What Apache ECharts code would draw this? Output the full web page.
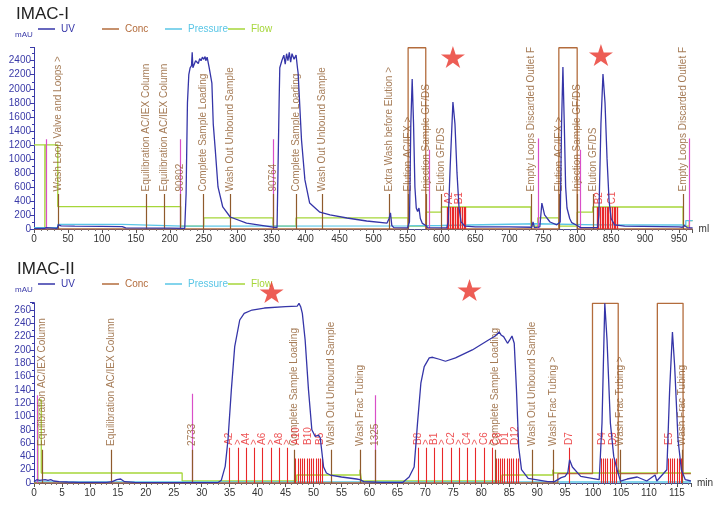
<!DOCTYPE html>
<html><head><meta charset="utf-8">
<script src="https://cdn.jsdelivr.net/npm/echarts@6/dist/echarts.min.js"></script>
<style>html,body{margin:0;padding:0;background:#fff}#c{width:714px;height:509px}</style>
</head><body><div id="c"></div>
<script>
// ---------------- IMAC-I (ml) ----------------
const uv1 = [[0,5],[5,10],[15,10],[18,20],[20,8],[34,8],[36,60],[40,45],[60,40],[100,38],[130,35],[135,15],[200,12],[222,10],[224,500],[226,1800],[228,2200],[230,2300],[232,2330],[233,2520],[234,2300],[236,2350],[238,2400],[240,2380],[242,2360],[244,2430],[246,2400],[248,2450],[250,2420],[252,2460],[253,2400],[255,2450],[258,2300],[262,2080],[264,1500],[267,1127],[271,600],[278,314],[289,171],[313,85],[352,28],[358,20],[360,30],[361,1800],[362,2300],[365,2400],[368,2480],[370,2350],[372,2500],[374,2400],[376,2520],[378,2380],[380,2500],[383,2420],[386,2480],[388,2300],[389,2225],[394,1270],[399,700],[406,370],[421,240],[436,200],[461,157],[490,114],[520,85],[522,80],[523,150],[525,230],[527,50],[530,20],[550,15],[553,100],[555,1500],[557,2140],[559,1500],[561,600],[563,300],[565,250],[567,300],[569,150],[572,80],[577,50],[580,20],[608,15],[610,100],[613,900],[617,1812],[620,1500],[623,800],[626,300],[629,100],[635,40],[650,30],[700,30],[733,25],[735,100],[737,20],[745,30],[748,370],[752,200],[760,100],[770,60],[775,100],[777,1500],[779,2310],[781,1500],[783,600],[785,300],[787,280],[789,150],[792,90],[800,50],[805,20],[830,20],[832,200],[835,1500],[838,2210],[841,1800],[844,1000],[847,400],[850,150],[855,60],[870,40],[950,30],[955,25],[958,50],[962,20],[970,15]];
const conc1 = [[0,0],[551,0],[551,2585],[577,2585],[577,0],[773,0],[773,2585],[800,2585],[800,0],[970,0]];
const pressure1 = [[0,20],[35,20],[35,65],[130,65],[130,40],[220,40],[220,45],[550,45],[550,50],[600,50],[600,75],[740,75],[740,60],[830,60],[830,57],[960,57],[960,120],[970,120]];
const flow1 = [[0,1200],[16,1200],[16,0],[16.5,0],[16.5,1200],[35,1200],[35,320],[216,320],[216,40],[250,40],[250,160],[352,160],[352,40],[386,40],[386,160],[551,160],[551,40],[577,40],[577,240],[600,240],[600,314],[732,314],[732,40],[742,40],[742,160],[773,160],[773,40],[800,40],[800,240],[823,240],[823,314],[956,314],[956,40],[965,40],[965,120],[970,120]];
const events1 = [[35,'Wash Loop Valve and Loops >'],[166,'Equilibration AC/IEX Column'],[192,'Equilibration AC/IEX Column'],[216,'90802'],[249,'Complete Sample Loading'],[289,'Wash Out Unbound Sample'],[353,'90764'],[386,'Complete Sample Loading'],[425,'Wash Out Unbound Sample'],[523,'Extra Wash before Elution >'],[551,'Elution AC/IEX >'],[577,'Injection Sample GF/DS'],[600,'Elution GF/DS'],[732,'Empty Loops Discarded Outlet F'],[773,'Elution AC/IEX >'],[800,'Injection Sample GF/DS'],[823,'Elution GF/DS'],[956,'Empty Loops Discarded Outlet F']];
const pinks1 = [[18,1280],[216,1280],[353,1280],[582,1130],[742,1290],[804,1130],[965,1290]];
const fracs1 = [608,610.5,613,615.5,618,620.5,623,625.5,628,630.5,633,635.5,829,831.5,834,836.5,839,841.5,844,846.5,849,851.5,854,856.5,859];
const fracLabels1 = [[611,'A2'],[627,'B1'],[832,'B2'],[851,'C1']];
const stars1 = [[617,2454],[835,2482]];

// ---------------- IMAC-II (min) ----------------
const uv2 = [[0,2],[0.5,5],[1,4],[2,5],[2.5,4],[3,5],[3.5,3],[4.5,2],[6,1.5],[8,1],[13,1],[14,2],[14.8,5],[15.5,6],[16.2,2],[18,1],[26.5,0.5],[33,1],[33.5,4],[34.2,25],[34.7,65],[35.3,140],[35.9,205],[36.8,245],[37.6,255],[39,260],[41.2,263],[45,265],[47.1,266],[47.4,270],[47.7,265],[48,255],[48.5,215],[49.1,140],[49.7,80],[50.3,70],[50.6,68],[50.9,72],[51.2,68],[51.8,24],[52.3,15],[53,12],[55,9],[57.7,6],[58.3,5],[59,2],[62,1],[66,1],[67.1,9],[68,24],[68.6,90],[69.2,150],[69.8,175],[70.7,188],[71.3,189],[72.5,186],[73.6,183],[75.4,188],[78.4,200],[81.3,215],[82.5,221],[83.2,227],[83.6,222],[84,220],[84.7,210],[85.1,215],[85.5,221],[85.9,210],[86.3,140],[86.7,54],[87.2,20],[88.4,7],[91.9,2],[93.1,2],[93.7,5],[94.3,8],[95,10],[95.5,16],[95.8,35],[96.3,24],[97.8,10],[101.1,5],[101.6,90],[102.1,270],[102.5,215],[103.1,90],[103.7,40],[104.3,20],[104.9,3],[106.1,6],[107.9,9],[109.6,3],[111.1,12],[111.4,3],[113.2,20],[113.7,140],[114.2,227],[114.6,175],[115.2,65],[115.8,20],[116.5,5],[117.5,3]];
const conc2 = [[0,0],[93.7,0],[93.7,14],[99.9,14],[99.9,270],[104.5,270],[104.5,14],[111.5,14],[111.5,270],[116.1,270],[116.1,14],[117.5,14]];
const pressure2 = [[0,1.5],[117.5,1.5]];
const flow2 = [[0,0],[0.7,0],[0.7,125],[1.3,125],[1.3,15],[26.5,15],[26.5,3],[47,3],[47,12],[58.3,12],[58.3,20],[58.6,20],[58.6,3],[83.7,3],[83.7,12],[92.8,12],[92.8,20],[93,15],[104.5,15],[104.6,20],[104.8,15],[117.5,15]];
const events2 = [[1.4,'Equilibration AC/IEX Column'],[13.75,'Equilibration AC/IEX Column'],[28.3,'2733'],[46.6,'Complete Sample Loading'],[53.1,'Wash Out Unbound Sample'],[58.3,'Wash Frac Tubing'],[61.0,'1325'],[82.5,'Complete Sample Loading'],[89.1,'Wash Out Unbound Sample'],[92.8,'Wash Frac Tubing >'],[104.9,'Wash Frac Tubing >'],[116.0,'Wash Frac Tubing']];
const pinks2 = [[0.65,132],[28.3,134],[61.0,132]];
const fracsTall2 = [35.0,36.5,37.9,39.4,40.9,42.4,43.8,45.3,68.7,70.2,71.6,73.1,74.6,76.1,77.5,79.0,80.5,82.0,95.8];
const fracsShort2 = [46.8,47.2,47.6,48.0,48.4,48.8,49.2,49.6,50.0,50.4,50.8,51.2,51.6,82.6,83.0,83.4,83.8,84.2,84.6,85.0,85.4,85.8,86.2,86.6,101.4,101.8,102.2,102.6,103.0,103.4,103.8,104.2,113.4,113.8,114.2,114.6,115.0,115.4,115.8];
const fracLabels2 = [[35.0,'A2'],[36.5,'>'],[37.9,'A4'],[39.4,'>'],[40.9,'A6'],[42.4,'>'],[43.8,'A8'],[45.3,'>'],[46.9,'A10'],[49.1,'B10'],[51.2,'B5'],[68.7,'B8'],[70.2,'>'],[71.6,'B1'],[73.1,'>'],[74.6,'C2'],[76.1,'>'],[77.5,'C4'],[79.0,'>'],[80.5,'C6'],[82.0,'>'],[82.9,'C8'],[84.3,'D1'],[86.0,'D12'],[95.8,'D7'],[101.6,'D4'],[103.7,'D9'],[113.7,'E5']];
const stars2 = [[42.5,287],[77.9,290]];

const C = {uv:'#3535a8', conc:'#b36c3c', pres:'#5ac6e6', flow:'#a6d63a', ev:'#8f5a2c', pink:'#d94fc8', red:'#e8282a', axisY:'#3a3aa8'};
const FONT = 'Arial';
const STAR = 'path://M50,0 L61,35 L98,35 L68,57 L79,91 L50,70 L21,91 L32,57 L2,35 L39,35 Z';

function vlines(list, h, color, w, xi, hFn){
  return {type:'lines', coordinateSystem:'cartesian2d', xAxisIndex:xi, yAxisIndex:xi, silent:true, z:3,
    lineStyle:{color:color, width:w, opacity:1},
    data: list.map(e => { const x = Array.isArray(e)?e[0]:e; const hh = hFn?hFn(e):h; return {coords:[[x,0],[x,hh]]}; })};
}
function vlabels(list, base, color, xi, size, dist){
  return {type:'scatter', xAxisIndex:xi, yAxisIndex:xi, symbolSize:1, silent:true, z:4,
    itemStyle:{color:'transparent'},
    data: list.map(e => ({value:[e[0], base], name:e[1]})),
    label:{show:true, formatter:'{b}', position:'top', distance:dist, rotate:90, align:'left', verticalAlign:'middle',
      color:color, fontSize:size, fontFamily:FONT}};
}
function panelSeries(xi, uv, conc, pres, flow){
  const base = {type:'line', xAxisIndex:xi, yAxisIndex:xi, showSymbol:false, symbol:'none', silent:true, animation:false};
  return [
    Object.assign({}, base, {name:'Flow', data:flow, lineStyle:{color:C.flow, width:1.3}, itemStyle:{color:C.flow}, z:2}),
    Object.assign({}, base, {name:'Pressure', data:pres, lineStyle:{color:C.pres, width:1.3}, itemStyle:{color:C.pres}, z:2}),
    Object.assign({}, base, {name:'Conc', data:conc, lineStyle:{color:C.conc, width:1.3}, itemStyle:{color:C.conc}, z:2}),
    Object.assign({}, base, {name:'UV', data:uv, lineStyle:{color:C.uv, width:1.3}, itemStyle:{color:C.uv}, z:5})
  ];
}
function legends(top){
  const items = [['UV',38,C.uv],['Conc',102,C.conc],['Pressure',165,C.pres],['Flow',228,C.flow]];
  return items.map(it => ({data:[it[0]], left:it[1], top:top, icon:'rect', itemWidth:17, itemHeight:1.5, padding:0, itemGap:0,
    selectedMode:false, textStyle:{color:it[2], fontSize:10, fontFamily:FONT, padding:[0,0,0,1]}}));
}
function xAxis(gi, max, interval, name){
  return {type:'value', gridIndex:gi, min:0, max:max, interval:interval, name:name, nameLocation:'end', nameGap:6,
    nameTextStyle:{color:'#333', fontSize:10, fontFamily:FONT, verticalAlign:'middle'},
    axisLine:{show:true, lineStyle:{color:'#4a4a8a', width:1}}, axisTick:{show:true, length:4, lineStyle:{color:'#555'}},
    minorTick:{show:true, splitNumber:5, length:2, lineStyle:{color:'#777'}},
    axisLabel:{color:'#333', fontSize:10, fontFamily:FONT, margin:5, showMaxLabel:false, formatter:v=>String(v)}, splitLine:{show:false}};
}
function yAxis(gi, max, interval){
  return {type:'value', gridIndex:gi, min:0, max:max, interval:interval,
    axisLine:{show:true, lineStyle:{color:C.axisY, width:1}}, axisTick:{show:true, length:4, lineStyle:{color:C.axisY}},
    minorTick:{show:true, splitNumber:2, length:2, lineStyle:{color:C.axisY}},
    axisLabel:{color:C.axisY, fontSize:10, fontFamily:FONT, margin:3, showMaxLabel:false, formatter:v=>String(v)}, splitLine:{show:false}};
}
function stars(list, xi){
  return {type:'scatter', xAxisIndex:xi, yAxisIndex:xi, symbol:STAR, symbolSize:[24,22], clip:false, silent:true, z:6,
    itemStyle:{color:'#e8352a'}, data:list};
}

const chart = echarts.init(document.getElementById('c'), null, {renderer:'canvas'});
chart.setOption({
  animation:false,
  backgroundColor:'#fff',
  title:[
    {text:'IMAC-I', left:16, top:6, padding:0, textStyle:{fontSize:17, fontWeight:'normal', color:'#222', fontFamily:'Liberation Sans Narrow, Arial'}},
    {text:'mAU', left:15, top:31, padding:0, textStyle:{fontSize:8, fontWeight:'normal', color:C.axisY, fontFamily:FONT}},
    {text:'IMAC-II', left:17, top:261, padding:0, textStyle:{fontSize:17, fontWeight:'normal', color:'#222', fontFamily:'Liberation Sans Narrow, Arial'}},
    {text:'mAU', left:15, top:286, padding:0, textStyle:{fontSize:8, fontWeight:'normal', color:C.axisY, fontFamily:FONT}}
  ],
  legend: legends(24).concat(legends(279)),
  grid:[
    {left:34, top:47.4, width:658.6, height:181.6},
    {left:34, top:302.7, width:663.1, height:180.3}
  ],
  xAxis:[xAxis(0, 970, 50, 'ml'), xAxis(1, 117.5, 5, 'min')],
  yAxis:[yAxis(0, 2590, 200), yAxis(1, 271, 20)],
  series: [].concat(
    panelSeries(0, uv1, conc1, pressure1, flow1),
    [vlines(pinks1, 0, C.pink, 1.2, 0, e=>e[1]),
     vlines(events1, 500, C.ev, 1.2, 0),
     vlabels(events1, 500, C.ev, 0, 10, 2),
     vlines(fracs1, 314, C.red, 1.3, 0),
     vlabels(fracLabels1, 330, C.red, 0, 10, 1),
     stars(stars1, 0)],
    panelSeries(1, uv2, conc2, pressure2, flow2),
    [vlines(pinks2, 0, C.pink, 1.2, 1, e=>e[1]),
     vlines(events2, 50, C.ev, 1.2, 1),
     vlabels(events2, 52, C.ev, 1, 10, 2),
     vlines(fracsTall2, 53, C.red, 1.1, 1),
     vlines(fracsShort2, 37, C.red, 1.1, 1),
     vlabels(fracLabels2, 55, C.red, 1, 10, 1),
     stars(stars2, 1)]
  )
});
</script></body></html>
